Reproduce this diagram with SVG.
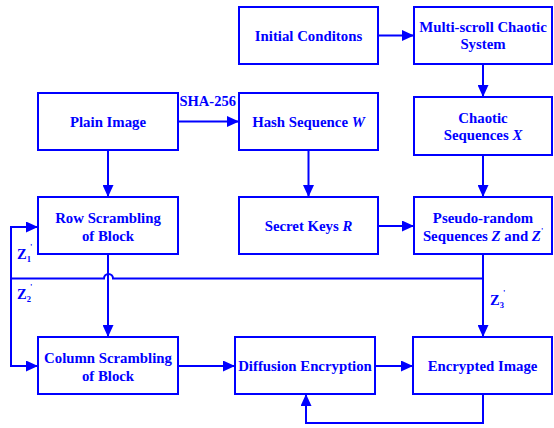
<svg xmlns="http://www.w3.org/2000/svg" width="554" height="428" viewBox="0 0 554 428">
<defs>
<marker id="ah" markerWidth="12" markerHeight="11" refX="11" refY="5.5" orient="auto" markerUnits="userSpaceOnUse">
<path d="M0,0 L12,5.5 L0,11 Z" fill="#0000ff"/>
</marker>
<style>
.box{fill:#fff;stroke:#0000ff;stroke-width:2}
.t{font-family:"Liberation Serif","Times New Roman",serif;font-weight:bold;font-size:14.8px;fill:#0000ff;text-anchor:middle}
.l{font-family:"Liberation Serif","Times New Roman",serif;font-weight:bold;font-size:14.5px;fill:#0000ff}
.c{fill:none;stroke:#0000ff;stroke-width:2}
</style>
</defs>
<rect width="554" height="428" fill="#fff"/>
<g id="n_initial"><rect class="box" x="239" y="7" width="139" height="57"/><text class="t" x="308.5" y="40.5">Initial Conditons</text></g>
<g id="n_multiscroll"><rect class="box" x="414" y="7" width="138" height="57"/><text class="t" x="483" y="32">Multi-scroll Chaotic</text><text class="t" x="483" y="49">System</text></g>
<g id="n_plain"><rect class="box" x="38" y="93" width="140" height="57"/><text class="t" x="108" y="126.5">Plain Image</text></g>
<g id="n_hash"><rect class="box" x="239" y="93" width="139" height="57"/><text class="t" x="308.5" y="126.5">Hash Sequence <tspan font-style="italic">W</tspan></text></g>
<g id="n_chaotic"><rect class="box" x="414" y="97" width="138" height="58"/><text class="t" x="483" y="122.5">Chaotic</text><text class="t" x="483" y="139.5">Sequences <tspan font-style="italic">X</tspan></text></g>
<g id="n_row"><rect class="box" x="38" y="197" width="140" height="57"/><text class="t" x="108" y="222.5">Row Scrambling</text><text class="t" x="108" y="240.5">of Block</text></g>
<g id="n_secret"><rect class="box" x="239" y="197" width="139" height="57"/><text class="t" x="308.5" y="231">Secret Keys <tspan font-style="italic">R</tspan></text></g>
<g id="n_pseudo"><rect class="box" x="414" y="197" width="138" height="57"/><text class="t" x="483" y="222.5">Pseudo-random</text><text class="t" x="483" y="240.5">Sequences <tspan font-style="italic">Z</tspan> and <tspan font-style="italic">Z</tspan><tspan font-size="8" dy="-7">'</tspan></text></g>
<g id="n_column"><rect class="box" x="38" y="337" width="140" height="57"/><text class="t" x="108" y="362.5">Column Scrambling</text><text class="t" x="108" y="380.5">of Block</text></g>
<g id="n_diffusion"><rect class="box" x="235" y="337" width="140" height="57"/><text class="t" x="305" y="371">Diffusion Encryption</text></g>
<g id="n_encrypted"><rect class="box" x="413" y="337" width="139" height="57"/><text class="t" x="482.5" y="371">Encrypted Image</text></g>
<g id="connectors">
<path class="c" d="M378,35.5 H413" marker-end="url(#ah)"/>
<path class="c" d="M483,64 V96" marker-end="url(#ah)"/>
<path class="c" d="M178,121.5 H238" marker-end="url(#ah)"/>
<path class="c" d="M108,150 V196" marker-end="url(#ah)"/>
<path class="c" d="M308.5,150 V196" marker-end="url(#ah)"/>
<path class="c" d="M483,155 V196" marker-end="url(#ah)"/>
<path class="c" d="M378,226 H413" marker-end="url(#ah)"/>
<path class="c" d="M108,254 V336" marker-end="url(#ah)"/>
<path class="c" d="M483,254 V336" marker-end="url(#ah)"/>
<path class="c" d="M483,278.5 H113 A4.5,4.5 0 0 0 104,278.5 H11 V227 H37" marker-end="url(#ah)"/>
<path class="c" d="M11,278.5 V366 H37" marker-end="url(#ah)"/>
<path class="c" d="M178,366 H234" marker-end="url(#ah)"/>
<path class="c" d="M375,366 H412" marker-end="url(#ah)"/>
<path class="c" d="M483,394 V423 H306 V395" marker-end="url(#ah)"/>
<text class="l" x="179.5" y="106">SHA-256</text>
<text class="l" x="17" y="259">Z<tspan font-size="8.5" dy="3">1</tspan><tspan font-size="8.5" dx="-1" dy="-12">'</tspan></text>
<text class="l" x="17" y="299">Z<tspan font-size="8.5" dy="3">2</tspan><tspan font-size="8.5" dx="-1" dy="-12">'</tspan></text>
<text class="l" x="490" y="305">Z<tspan font-size="8.5" dy="3">3</tspan><tspan font-size="8.5" dx="-1" dy="-12">'</tspan></text>
</g>
</svg>
